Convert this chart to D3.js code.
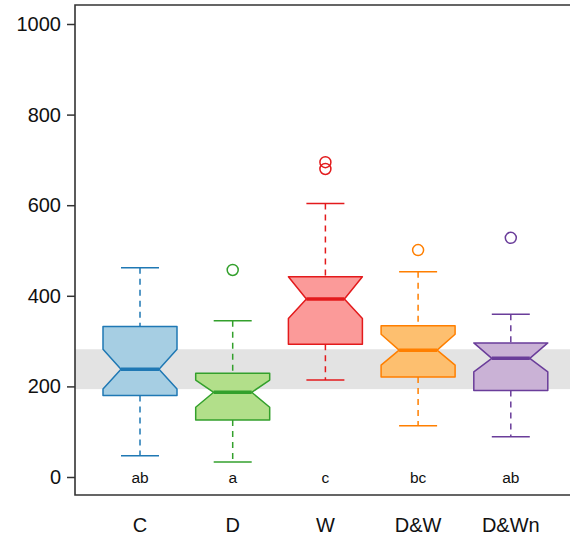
<!DOCTYPE html>
<html>
<head>
<meta charset="utf-8">
<script src="https://cdn.jsdelivr.net/npm/d3@7"></script>
<style>
  body { margin: 0; background: #fff; }
  text { font-family: "Liberation Sans", Arial, sans-serif; }
</style>
</head>
<body>
<svg id="chart" width="570" height="537"></svg>
<script>
// groups and their stats
const groups = ['C', 'D', 'W', 'D&W', 'D&Wn'];
const whiskerLo = [47, 33, 214, 113, 89];
const q1 = [180, 126, 293, 221, 191];
const notchLo = [194, 154, 350, 247, 232];
const median = [238, 187, 393, 280, 262];
const notchHi = [282, 214, 442, 315, 296];
const q3 = [332, 229, 442, 334, 296];
const whiskerHi = [462, 345, 604, 453, 359];
const outliers = [[], [457], [680, 695], [501], [528]];
const letters = ['ab', 'a', 'c', 'bc', 'ab'];
const yTicks = [0, 200, 400, 600, 800, 1000];

// control (C) notch range shown as grey band
const band = [194, 282];

const fills = ['#a6cee3', '#b2df8a', '#fb9a99', '#fdbf6f', '#cab2d6'];
const strokes = ['#1f78b4', '#33a02c', '#e31a1c', '#ff7f00', '#6a3d9a'];

const svg = d3.select('#chart');
const plotLeft = 75, plotTop = 5, plotBottom = 495, plotRight = 575;

const y = d3.scaleLinear().domain([0, 1000]).range([477, 24]);
const x = d3.scalePoint().domain(groups).range([140, 510.8]);

const boxHalf = 37, notchHalf = 19, capHalf = 19;

// grey band
svg.append('rect')
    .attr('x', plotLeft)
    .attr('width', plotRight - plotLeft)
    .attr('y', y(band[1]))
    .attr('height', y(band[0]) - y(band[1]))
    .attr('fill', '#e3e3e3');

const data = groups.map((g, i) => ({
    g, i,
    wl: whiskerLo[i], q1: q1[i], nl: notchLo[i], med: median[i],
    nh: notchHi[i], q3: q3[i], wh: whiskerHi[i], out: outliers[i]
}));

const box = svg.selectAll('g.box')
    .data(data)
    .enter().append('g')
    .attr('class', 'box');

box.each(function (d) {
    const g = d3.select(this);
    const cx = x(d.g);
    const col = strokes[d.i];

    // whiskers
    [[d.wh, d.q3], [d.q1, d.wl]].forEach(([a, b]) => {
        g.append('line')
            .attr('x1', cx).attr('x2', cx)
            .attr('y1', y(a)).attr('y2', y(b))
            .attr('stroke', col)
            .attr('stroke-width', 1.5)
            .attr('stroke-dasharray', '6,5');
    });
    [d.wh, d.wl].forEach(v => {
        g.append('line')
            .attr('x1', cx - capHalf).attr('x2', cx + capHalf)
            .attr('y1', y(v)).attr('y2', y(v))
            .attr('stroke', col)
            .attr('stroke-width', 1.5);
    });

    // notched box
    const nh = Math.min(d.nh, d.q3), nl = Math.max(d.nl, d.q1);
    const pts = [
        [cx - boxHalf, y(d.q3)], [cx + boxHalf, y(d.q3)],
        [cx + boxHalf, y(nh)], [cx + notchHalf, y(d.med)],
        [cx + boxHalf, y(nl)], [cx + boxHalf, y(d.q1)],
        [cx - boxHalf, y(d.q1)], [cx - boxHalf, y(nl)],
        [cx - notchHalf, y(d.med)], [cx - boxHalf, y(nh)]
    ];
    g.append('path')
        .attr('d', d3.line()(pts) + 'Z')
        .attr('fill', fills[d.i])
        .attr('stroke', col)
        .attr('stroke-width', 1.5)
        .attr('stroke-linejoin', 'round');

    // median
    g.append('line')
        .attr('x1', cx - notchHalf).attr('x2', cx + notchHalf)
        .attr('y1', y(d.med)).attr('y2', y(d.med))
        .attr('stroke', col)
        .attr('stroke-width', 3.5);

    // outliers
    g.selectAll('circle')
        .data(d.out)
        .enter().append('circle')
        .attr('cx', cx)
        .attr('cy', v => y(v))
        .attr('r', 5.5)
        .attr('fill', 'none')
        .attr('stroke', col)
        .attr('stroke-width', 1.5);

    // significance letters
    g.append('text')
        .attr('x', cx)
        .attr('y', 483)
        .attr('text-anchor', 'middle')
        .attr('font-size', 15.5)
        .attr('fill', '#111')
        .text(letters[d.i]);
});

// frame
svg.append('path')
    .attr('d', `M${plotRight},${plotTop}H${plotLeft}V${plotBottom}H${plotRight}`)
    .attr('fill', 'none')
    .attr('stroke', '#333')
    .attr('stroke-width', 1.6);

// y axis ticks
const yAxis = svg.append('g')
    .attr('transform', `translate(${plotLeft},0)`)
    .call(d3.axisLeft(y).tickValues(yTicks).tickSize(8).tickPadding(6).tickFormat(d3.format('d')));
yAxis.select('.domain').remove();
yAxis.selectAll('line').attr('stroke', '#333').attr('stroke-width', 1.5);
yAxis.selectAll('text')
    .attr('font-size', 20)
    .attr('fill', '#111')
    .style('font-family', '"Liberation Sans", Arial, sans-serif');

// category labels
svg.selectAll('text.cat')
    .data(groups)
    .enter().append('text')
    .attr('class', 'cat')
    .attr('x', d => x(d))
    .attr('y', 532)
    .attr('text-anchor', 'middle')
    .attr('font-size', 20)
    .attr('fill', '#111')
    .text(d => d);
</script>
</body>
</html>
